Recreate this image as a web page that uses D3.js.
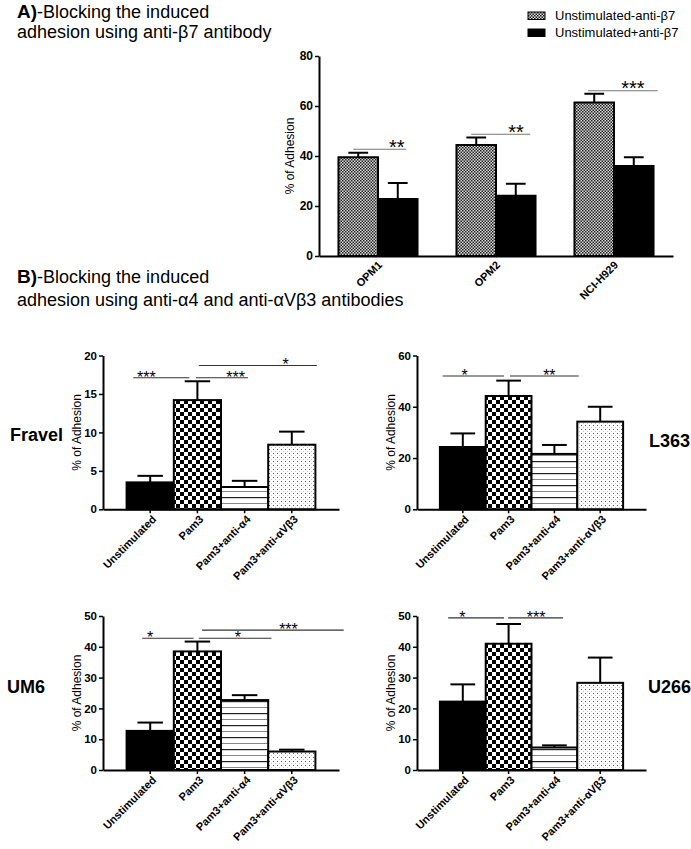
<!DOCTYPE html>
<html><head><meta charset="utf-8">
<script src="https://cdn.jsdelivr.net/npm/d3@7"></script>
<style>
body{margin:0;background:#fff}
text{font-family:Arial,"Liberation Sans",Helvetica,sans-serif}
</style></head>
<body><svg id="c" width="691" height="849"></svg>
<script>
// ---------- DATA ----------
const groupsA = ["OPM1", "OPM2", "NCI-H929"];
const seriesA = ["Unstimulated-anti-β7", "Unstimulated+anti-β7"];
const meanMinusB7 = [39.5, 44.4, 61.4];
const semMinusB7 = [1.8, 3.0, 3.5];
const meanPlusB7 = [22.8, 24.1, 36.0];
const semPlusB7 = [6.4, 4.8, 3.5];
const yTicksA = [0, 20, 40, 60, 80];
// significance bars for panel A (span in group units around group centre, level in % units)
const sigA = [
  {group: "OPM1", from: -0.21, to: 0.24, at: 0.16, level: 42.7, label: "**"},
  {group: "OPM2", from: -0.21, to: 0.29, at: 0.17, level: 48.7, label: "**"},
  {group: "NCI-H929", from: -0.22, to: 0.37, at: 0.16, level: 66.1, label: "***"}
];

const conditionsB = ["Unstimulated", "Pam3", "Pam3+anti-α4", "Pam3+anti-αVβ3"];
const cellLines = ["Fravel", "L363", "UM6", "U266"];
const meanFravel = [3.5, 14.2, 2.9, 8.4];
const semFravel = [0.85, 2.45, 0.8, 1.7];
const meanL363 = [24.3, 44.2, 21.6, 34.2];
const semL363 = [5.3, 6.0, 3.5, 5.8];
const meanUM6 = [12.7, 38.5, 22.7, 6.0];
const semUM6 = [2.7, 3.2, 1.6, 0.6];
const meanU266 = [22.2, 41.0, 7.3, 28.3];
const semU266 = [5.6, 6.4, 0.7, 8.2];
const yTicksFravel = [0, 5, 10, 15, 20];
const yTicksL363 = [0, 20, 40, 60];
const yTicksUM6 = [0, 10, 20, 30, 40, 50];
const yTicksU266 = [0, 10, 20, 30, 40, 50];
// significance bars (span in category-index units, level in % units)
const sigFravel = [
  {from: -0.36, to: 0.83, at: -0.08, level: 17.1, label: "***"},
  {from: 0.97, to: 2.07, at: 1.81, level: 17.1, label: "***"},
  {from: 1.03, to: 3.53, at: 2.87, level: 18.7, label: "*"}
];
const sigL363 = [
  {from: -0.44, to: 0.90, at: 0.04, level: 52.0, label: "*"},
  {from: 1.03, to: 2.53, at: 1.89, level: 52.0, label: "**"}
];
const sigUM6 = [
  {from: -0.17, to: 0.92, at: 0.0, level: 42.8, label: "*"},
  {from: 1.03, to: 2.57, at: 1.86, level: 42.8, label: "*"},
  {from: 1.10, to: 4.10, at: 2.93, level: 45.4, label: "***"}
];
const sigU266 = [
  {from: -0.32, to: 0.90, at: -0.01, level: 49.4, label: "*"},
  {from: 0.99, to: 2.19, at: 1.60, level: 49.4, label: "***"}
];

// ---------- DRAWING ----------
const svg = d3.select("#c");
const defs = svg.append("defs");

// fine grey checker (panel A)
let p = defs.append("pattern").attr("id", "pFine").attr("patternUnits", "userSpaceOnUse").attr("width", 3).attr("height", 3);
p.append("rect").attr("width", 3).attr("height", 3).attr("fill", "#d8d8d8");
p.append("rect").attr("width", 1.5).attr("height", 1.5).attr("fill", "#222");
p.append("rect").attr("x", 1.5).attr("y", 1.5).attr("width", 1.5).attr("height", 1.5).attr("fill", "#222");
// coarse checker (Pam3)
p = defs.append("pattern").attr("id", "pCheck").attr("patternUnits", "userSpaceOnUse").attr("width", 8).attr("height", 8);
p.append("rect").attr("width", 8).attr("height", 8).attr("fill", "#fff");
p.append("rect").attr("width", 4).attr("height", 4).attr("fill", "#000");
p.append("rect").attr("x", 4).attr("y", 4).attr("width", 4).attr("height", 4).attr("fill", "#000");
// horizontal lines (anti-α4)
p = defs.append("pattern").attr("id", "pHoriz").attr("patternUnits", "userSpaceOnUse").attr("width", 12).attr("height", 12);
p.append("rect").attr("width", 12).attr("height", 12).attr("fill", "#fff");
p.append("rect").attr("y", 5).attr("width", 12).attr("height", 1.2).attr("fill", "#222");
p.append("rect").attr("y", 11).attr("width", 12).attr("height", 1.2).attr("fill", "#888");
// dots (anti-αVβ3)
p = defs.append("pattern").attr("id", "pDots").attr("patternUnits", "userSpaceOnUse").attr("width", 4).attr("height", 4);
p.append("rect").attr("width", 4).attr("height", 4).attr("fill", "#fff");
p.append("rect").attr("x", 1).attr("y", 1).attr("width", 1).attr("height", 1).attr("fill", "#555");
p.append("rect").attr("x", 3).attr("y", 3).attr("width", 1).attr("height", 1).attr("fill", "#c4c4c4");

const fillsB = ["#000", "url(#pCheck)", "url(#pHoriz)", "url(#pDots)"];
const fillsA = ["url(#pFine)", "#000"];

function styleAxis(g) {
  g.select(".domain").attr("stroke", "#000").attr("stroke-width", 2);
  g.selectAll(".tick line").attr("stroke", "#000").attr("stroke-width", 1.5);
}

// ---- Titles ----
function title(y1, y2, lead, rest, line2) {
  const t = svg.append("text").attr("x", 17).attr("y", y1).attr("font-size", 18);
  t.append("tspan").attr("font-weight", "bold").attr("font-size", 19).text(lead);
  t.append("tspan").text(rest);
  svg.append("text").attr("x", 17).attr("y", y2).attr("font-size", 18).text(line2);
}
title(18, 38, "A)", "-Blocking the induced", "adhesion using anti-β7 antibody");
title(283, 306, "B)", "-Blocking the induced", "adhesion using anti-α4 and anti-αVβ3 antibodies");

// ---- Panel A ----
(function () {
  const L = 319, R = 673, T = 56, B = 256;
  const x0 = d3.scaleBand().domain(groupsA).range([L, R]).paddingInner(0.33).paddingOuter(0.165);
  const x1 = d3.scaleBand().domain(seriesA).range([0, x0.bandwidth()]);
  const y = d3.scaleLinear().domain([0, 80]).range([B, T]);
  const means = [meanMinusB7, meanPlusB7], sems = [semMinusB7, semPlusB7];

  const gy = svg.append("g").attr("transform", `translate(${L},0)`)
    .call(d3.axisLeft(y).tickValues(yTicksA).tickSize(4).tickPadding(2).tickSizeOuter(0));
  styleAxis(gy);
  gy.selectAll("text").attr("font-size", 12).attr("font-weight", "bold").attr("fill", "#000");

  seriesA.forEach((s, si) => {
    groupsA.forEach((g, gi) => {
      const bx = x0(g) + x1(s), bw = x1.bandwidth();
      const top = y(means[si][gi]), et = y(means[si][gi] + sems[si][gi]);
      const cx = bx + bw / 2;
      svg.append("line").attr("x1", cx).attr("x2", cx).attr("y1", top).attr("y2", et).attr("stroke", "#000").attr("stroke-width", 2);
      svg.append("line").attr("x1", cx - bw * 0.25).attr("x2", cx + bw * 0.25).attr("y1", et).attr("y2", et).attr("stroke", "#000").attr("stroke-width", 2);
      svg.append("rect").attr("x", bx).attr("y", top).attr("width", bw).attr("height", B - top)
        .attr("fill", fillsA[si]).attr("stroke", "#000").attr("stroke-width", 2);
    });
  });

  const gx = svg.append("g").attr("transform", `translate(0,${B})`)
    .call(d3.axisBottom(x0).tickSize(0).tickFormat("").tickSizeOuter(0));
  styleAxis(gx);
  groupsA.forEach(g => {
    const cx = x0(g) + x0.bandwidth() / 2;
    svg.append("text").attr("transform", `translate(${cx + 2},${B + 7}) rotate(-45)`)
      .attr("text-anchor", "end").attr("dy", "0.35em").attr("font-size", 11).attr("font-weight", "bold").text(g);
  });

  svg.append("text").attr("transform", `translate(294,${(T + B) / 2}) rotate(-90)`)
    .attr("text-anchor", "middle").attr("font-size", 12).text("% of Adhesion");

  const step = x0.step();
  sigA.forEach(d => {
    const c = x0(d.group) + x0.bandwidth() / 2;
    const ly = y(d.level);
    svg.append("line").attr("x1", c + d.from * step).attr("x2", c + d.to * step).attr("y1", ly).attr("y2", ly)
      .attr("stroke", "#777").attr("stroke-width", 1.2);
    svg.append("text").attr("x", c + d.at * step).attr("y", ly + 4.6).attr("text-anchor", "middle")
      .attr("font-size", 20).text(d.label);
  });

  // legend
  seriesA.forEach((s, i) => {
    const ly = [12, 29][i];
    svg.append("rect").attr("x", 528).attr("y", ly).attr("width", 17).attr("height", 7.5)
      .attr("fill", fillsA[i]).attr("stroke", "#000").attr("stroke-width", 1);
    svg.append("text").attr("x", 555).attr("y", ly + 7.5).attr("font-size", 13).text(s);
  });
})();

// ---- Panel B ----
function drawB(o) {
  const x = d3.scaleBand().domain(conditionsB).range([o.L, o.R]).paddingInner(0).paddingOuter(0.5);
  const y = d3.scaleLinear().domain([0, d3.max(o.ticks)]).range([o.B, o.T]);
  const bw = x.bandwidth();

  const gy = svg.append("g").attr("transform", `translate(${o.L},0)`)
    .call(d3.axisLeft(y).tickValues(o.ticks).tickSize(4).tickPadding(2).tickSizeOuter(0));
  styleAxis(gy);
  gy.selectAll("text").attr("font-size", 11.5).attr("font-weight", "bold").attr("fill", "#000");

  conditionsB.forEach((c, i) => {
    const bx = x(c), cx = bx + bw / 2;
    const top = y(o.means[i]), et = y(o.means[i] + o.sems[i]);
    svg.append("line").attr("x1", cx).attr("x2", cx).attr("y1", top).attr("y2", et).attr("stroke", "#000").attr("stroke-width", 2);
    svg.append("line").attr("x1", cx - bw * 0.27).attr("x2", cx + bw * 0.27).attr("y1", et).attr("y2", et).attr("stroke", "#000").attr("stroke-width", 2);
    svg.append("rect").attr("x", bx).attr("y", top).attr("width", bw).attr("height", o.B - top)
      .attr("fill", fillsB[i]).attr("stroke", "#000").attr("stroke-width", 2);
  });

  const gx = svg.append("g").attr("transform", `translate(0,${o.B})`)
    .call(d3.axisBottom(x).tickSize(4).tickFormat("").tickSizeOuter(0));
  styleAxis(gx);
  conditionsB.forEach(c => {
    const cx = x(c) + bw / 2;
    svg.append("text").attr("transform", `translate(${cx + 4},${o.B + 8}) rotate(-45)`)
      .attr("text-anchor", "end").attr("dy", "0.35em").attr("font-size", 11).attr("font-weight", "bold").text(c);
  });

  svg.append("text").attr("transform", `translate(${o.L - 22},${(o.T + o.B) / 2}) rotate(-90)`)
    .attr("text-anchor", "middle").attr("font-size", 12).text("% of Adhesion");

  const c0 = x(conditionsB[0]) + bw / 2, st = x.step();
  o.sig.forEach(d => {
    const ly = y(d.level);
    svg.append("line").attr("x1", c0 + d.from * st).attr("x2", c0 + d.to * st).attr("y1", ly).attr("y2", ly)
      .attr("stroke", "#333").attr("stroke-width", 1.1);
    svg.append("text").attr("x", c0 + d.at * st).attr("y", ly + 5).attr("text-anchor", "middle")
      .attr("font-size", 16).text(d.label);
  });

  svg.append("text").attr("x", o.nx).attr("y", o.ny).attr("font-size", 18).attr("font-weight", "bold").text(o.name);
}

drawB({L: 103, R: 339, T: 355.5, B: 509.3, ticks: yTicksFravel, means: meanFravel, sems: semFravel, sig: sigFravel, name: cellLines[0], nx: 10, ny: 441});
drawB({L: 417, R: 646, T: 355.5, B: 509.3, ticks: yTicksL363, means: meanL363, sems: semL363, sig: sigL363, name: cellLines[1], nx: 649, ny: 447});
drawB({L: 103, R: 339, T: 616, B: 770, ticks: yTicksUM6, means: meanUM6, sems: semUM6, sig: sigUM6, name: cellLines[2], nx: 7, ny: 693});
drawB({L: 417, R: 646, T: 616, B: 770, ticks: yTicksU266, means: meanU266, sems: semU266, sig: sigU266, name: cellLines[3], nx: 648, ny: 693});
</script></body></html>
